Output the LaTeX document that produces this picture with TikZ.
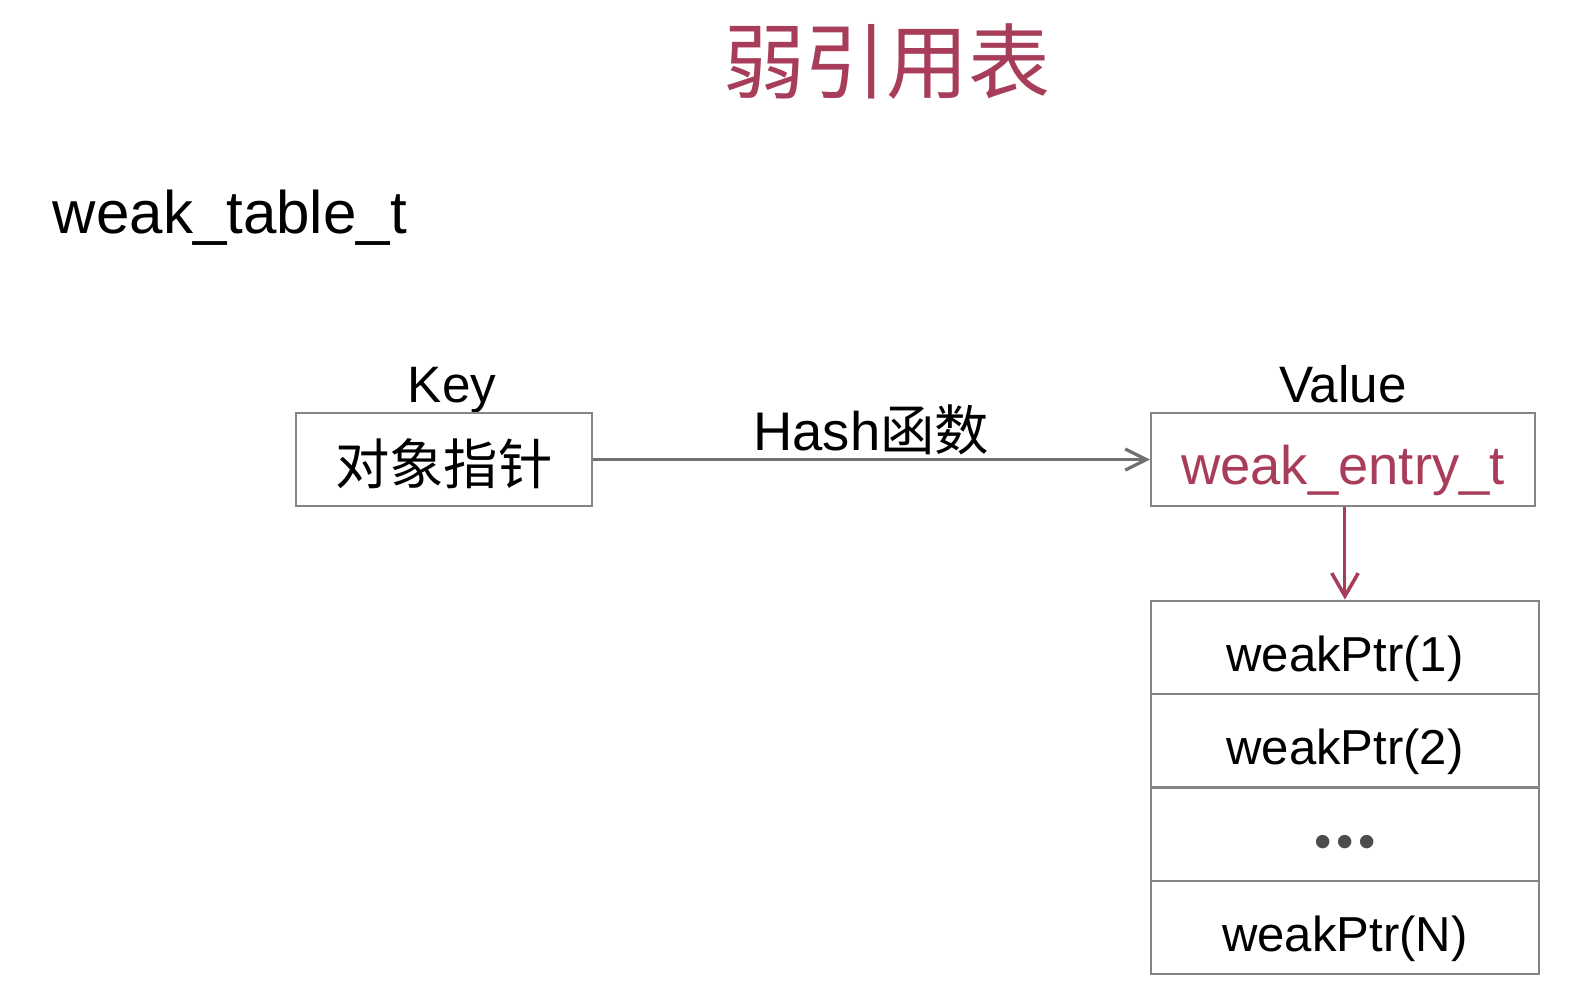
\documentclass[tikz,border=0pt]{standalone}
\usepackage{fontspec}
\setmainfont{Liberation Sans}
\newfontfamily\cjk{Noto Sans CJK SC}
\usepackage{tikz}
\usetikzlibrary{calc}
\usetikzlibrary{arrows.meta}
\usepackage{xcolor}
\definecolor{titlered}{HTML}{A83D5A}
\definecolor{boxgray}{HTML}{858585}
\definecolor{arrowgray}{HTML}{707070}

\begin{document}
\begin{tikzpicture}[x=0.01cm,y=-0.01cm,
  lbl/.style={font=\fontsize{14.5}{17}\selectfont, anchor=base},
  entrybox/.style={draw=boxgray, line width=0.6pt, minimum height=0.93cm, inner sep=0pt,
    text height=14pt, text depth=0pt, font=\fontsize{15.4}{18}\selectfont},
  ptrcell/.style={draw=boxgray, line width=0.6pt, minimum width=3.86cm, minimum height=0.93cm,
    inner sep=0pt, text height=13.6pt, text depth=0pt, font=\fontsize{13.9}{16}\selectfont},
  conn/.style={line width=0.6pt, -{Straight Barb[length=6pt,width=6pt,line width=0.9pt]}}
]
\useasboundingbox (0,0) rectangle (1569,987.6);

\node[text=titlered, font=\fontsize{23.2}{28}\selectfont\cjk] (title) at (883,61) {弱引用表};

\node[font=\fontsize{17}{20}\selectfont, anchor=base west, inner sep=0pt] (table) at (52,232) {weak\_table\_t};

% key / value
\node[lbl] (keylbl) at (450,401) {Key};
\node[lbl] (vallbl) at (1337,401) {Value};

\node[entrybox, minimum width=2.94cm] (key) at (442,457.5) {\cjk 对象指针};
\node[entrybox, minimum width=3.82cm, text=titlered] (value) at (1337,457.5) {weak\_entry\_t};

\draw[conn, draw=arrowgray] (key.east) -- (value.west)
  node[pos=0.5, anchor=base, yshift=2.5pt, font=\fontsize{15.4}{18}\selectfont] (hash) {Hash{\cjk 函数}};

% weak pointers
\node[ptrcell] (p1) at (1339,644.5) {weakPtr(1)};
\node[ptrcell] (p2) at (1339,737.5) {weakPtr(2)};
\node[ptrcell, text=black!70] (p3) at (1339,830.5) {\fontsize{14}{16}\selectfont •\hspace{1.3pt}•\hspace{1.3pt}•};
\node[ptrcell] (p4) at (1339,923.5) {weakPtr(N)};

\draw[conn, draw=titlered, line width=0.85pt, -{Straight Barb[length=6.5pt,width=7.5pt,line width=1pt]}]
  (p1.north |- value.south) -- (p1.north);

\end{tikzpicture}
\end{document}
